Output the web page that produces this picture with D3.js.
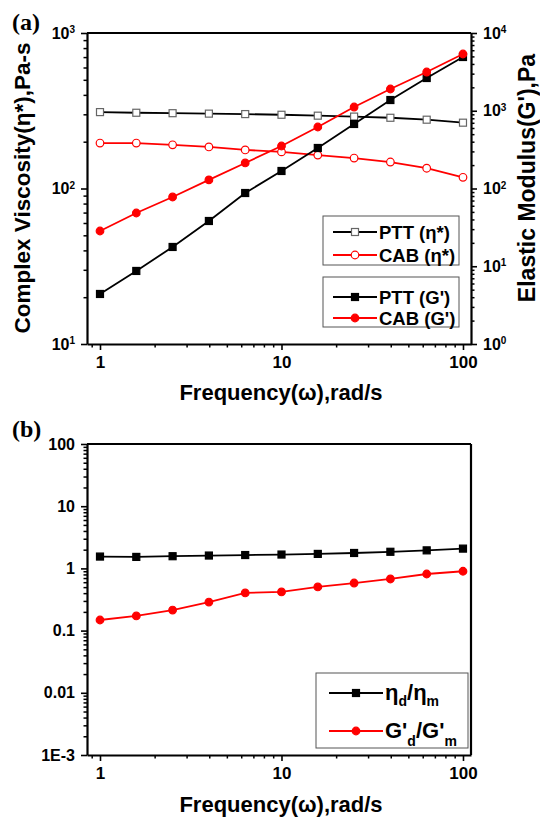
<!DOCTYPE html>
<html>
<head>
<meta charset="utf-8">
<script src="https://cdn.jsdelivr.net/npm/d3@7"></script>
<style>
  body { margin: 0; background: #fff; }
  svg { display: block; }
  text { font-family: "Liberation Sans", Arial, sans-serif; font-weight: bold; }
</style>
</head>
<body>
<svg id="chart" width="540" height="819"></svg>
<script>
// frequencies (rad/s), 5 points per decade
var freq = [1, 1.585, 2.512, 3.981, 6.310, 10, 15.85, 25.12, 39.81, 63.10, 100];

// panel (a): complex viscosity (left axis) and G' (right axis)
var pttEta = [310, 307, 305, 303, 301, 298, 294, 290, 285, 277, 265];
var cabEta = [196, 196, 191, 185, 177, 172, 164, 157, 148, 135, 118];
var pttG = [4.4, 8.7, 17.7, 38.2, 87.5, 168, 332, 676, 1374, 2637, 4912];
var cabG = [28.4, 48.4, 77.8, 129, 213, 352, 618, 1117, 1904, 3149, 5370];

// panel (b): ratios
var etaRatio = [1.55, 1.53, 1.57, 1.61, 1.64, 1.67, 1.71, 1.77, 1.85, 1.95, 2.08];
var gRatio = [0.148, 0.172, 0.214, 0.288, 0.403, 0.418, 0.503, 0.582, 0.676, 0.813, 0.90];

var xTicks = [1, 10, 100];
var leftTicksA = [10, 100, 1000];
var rightTicksA = [1, 10, 100, 1000, 10000];
var yTicksB = [100, 10, 1, 0.1, 0.01, 0.001];
var yLabelsB = ['100', '10', '1', '0.1', '0.01', '1E-3'];

var svg = d3.select('#chart');

function minors(domain) {
    var out = [];
    var lo = Math.floor(Math.log10(domain[0])), hi = Math.ceil(Math.log10(domain[1]));
    for (var e = lo; e <= hi; e++) {
        for (var k = 2; k <= 9; k++) {
            var v = k * Math.pow(10, e);
            if (v >= domain[0] * 0.999 && v <= domain[1] * 1.001) out.push(v);
        }
    }
    return out;
}

function drawAxis(g, axisFn, scale, majors, minorLen) {
    var doms = scale.domain();
    g.append('g')
        .call(axisFn(scale).tickValues(minors([Math.min(doms[0], doms[1]), Math.max(doms[0], doms[1])]))
            .tickSize(minorLen).tickSizeOuter(0).tickFormat(''))
        .call(a => a.select('.domain').remove())
        .selectAll('line').attr('stroke-width', 1.5);
    var major = g.append('g')
        .call(axisFn(scale).tickValues(majors).tickSize(6).tickSizeOuter(0).tickPadding(6));
    major.select('.domain').attr('stroke-width', 2.2);
    major.selectAll('line').attr('stroke-width', 1.6);
    major.attr('font-family', null).attr('font-size', 16);
    return major;
}

function superscript(sel) {
    sel.selectAll('.tick text').each(function (d) {
        var t = d3.select(this);
        t.text(null);
        t.append('tspan').text('10');
        t.append('tspan').attr('dy', '-0.55em').attr('font-size', 10)
            .text(Math.round(Math.log10(d)));
    });
}

function series(g, x, y, vals, color, shape, filled) {
    var pts = freq.map((f, i) => [x(f), y(vals[i])]);
    g.append('path')
        .attr('d', d3.line()(pts))
        .attr('fill', 'none')
        .attr('stroke', color)
        .attr('stroke-width', 1.8);
    marker(g, pts, color, shape, filled);
}

function marker(g, pts, color, shape, filled) {
    if (shape === 'square') {
        g.selectAll(null).data(pts).enter().append('rect')
            .attr('x', d => d[0] - 3.5).attr('y', d => d[1] - 3.5)
            .attr('width', 7).attr('height', 7)
            .attr('fill', filled ? color : '#fff')
            .attr('stroke', filled ? color : '#666')
            .attr('stroke-width', 1.2);
    } else {
        g.selectAll(null).data(pts).enter().append('circle')
            .attr('cx', d => d[0]).attr('cy', d => d[1])
            .attr('r', 3.8)
            .attr('fill', filled ? color : '#fff')
            .attr('stroke', color)
            .attr('stroke-width', 1.2);
    }
}

// ---------- panel (a) ----------
var x = d3.scaleLog().domain([0.848, 110.7]).range([87, 471]);
var yEta = d3.scaleLog().domain([10, 1000]).range([344, 33]);
var yG = d3.scaleLog().domain([1, 10000]).range([344, 33]);

var pa = svg.append('g');

pa.append('line').attr('x1', 87).attr('x2', 471).attr('y1', 33).attr('y2', 33)
    .attr('stroke', '#000').attr('stroke-width', 2.2);

var ax = drawAxis(pa.append('g').attr('transform', 'translate(0,344)'), d3.axisBottom, x, xTicks, 3.5);
ax.attr('font-size', 17);
ax.selectAll('.tick text').text(d => d);
var ay = drawAxis(pa.append('g').attr('transform', 'translate(87,0)'), d3.axisLeft, yEta, leftTicksA, 3.5);
superscript(ay);
var ay2 = drawAxis(pa.append('g').attr('transform', 'translate(471,0)'), d3.axisRight, yG, rightTicksA, 3.5);
superscript(ay2);
ay2.selectAll('.tick text').attr('x', 12);

series(pa, x, yEta, pttEta, '#000', 'square', false);
series(pa, x, yEta, cabEta, '#ff0000', 'circle', false);
series(pa, x, yG, pttG, '#000', 'square', true);
series(pa, x, yG, cabG, '#ff0000', 'circle', true);

pa.append('text').attr('x', 12).attr('y', 30)
    .style('font-family', '"Liberation Serif", serif').style('font-size', '24px')
    .text('(a)');

pa.append('text')
    .attr('transform', 'translate(30,188) rotate(-90)')
    .attr('text-anchor', 'middle')
    .style('font-size', '22.5px')
    .text('Complex Viscosity(\u03b7*),Pa-s');

pa.append('text')
    .attr('transform', 'translate(535,178) rotate(-90)')
    .attr('text-anchor', 'middle')
    .style('font-size', '23px')
    .text("Elastic Modulus(G'),Pa");

pa.append('text').attr('x', 281).attr('y', 400)
    .attr('text-anchor', 'middle').style('font-size', '22px')
    .text('Frequency(\u03c9),rad/s');

// legends (a)
function legendBox(g, x0, y0, w, h) {
    g.append('rect').attr('x', x0).attr('y', y0).attr('width', w).attr('height', h)
        .attr('fill', '#fff').attr('stroke', '#555').attr('stroke-width', 1);
}
function legendRow(g, x1, x2, y, color, shape, filled) {
    g.append('line').attr('x1', x1).attr('x2', x2).attr('y1', y).attr('y2', y)
        .attr('stroke', color).attr('stroke-width', 1.8);
    marker(g, [[(x1 + x2) / 2, y]], color, shape, filled);
}

var lg = pa.append('g');
legendBox(lg, 323, 216, 136, 49);
legendBox(lg, 323, 277, 136, 50);
var rowsA = [
    {y: 232, c: '#000', s: 'square', f: false, t: 'PTT (\u03b7*)'},
    {y: 255, c: '#ff0000', s: 'circle', f: false, t: 'CAB (\u03b7*)'},
    {y: 297, c: '#000', s: 'square', f: true, t: "PTT (G')"},
    {y: 318, c: '#ff0000', s: 'circle', f: true, t: "CAB (G')"}
];
rowsA.forEach(function (r) {
    legendRow(lg, 333, 377, r.y, r.c, r.s, r.f);
    lg.append('text').attr('x', 379).attr('y', r.y + 6.5).style('font-size', '18.5px').text(r.t);
});

// ---------- panel (b) ----------
var yB = d3.scaleLog().domain([0.001, 100]).range([755, 444]);
var pb = svg.append('g');

pb.append('line').attr('x1', 87).attr('x2', 471).attr('y1', 444).attr('y2', 444)
    .attr('stroke', '#000').attr('stroke-width', 2.2);
pb.append('line').attr('x1', 471).attr('x2', 471).attr('y1', 444).attr('y2', 755)
    .attr('stroke', '#000').attr('stroke-width', 2.2);

var bx = drawAxis(pb.append('g').attr('transform', 'translate(0,755)'), d3.axisBottom, x, xTicks, 3.5);
bx.attr('font-size', 17);
bx.selectAll('.tick text').text(d => d);
var by = drawAxis(pb.append('g').attr('transform', 'translate(87,0)'), d3.axisLeft, yB, yTicksB, 3.5);
by.selectAll('.tick text').text((d, i) => yLabelsB[i]);

series(pb, x, yB, etaRatio, '#000', 'square', true);
series(pb, x, yB, gRatio, '#ff0000', 'circle', true);

pb.append('text').attr('x', 12).attr('y', 437)
    .style('font-family', '"Liberation Serif", serif').style('font-size', '24px')
    .text('(b)');

pb.append('text').attr('x', 281).attr('y', 812)
    .attr('text-anchor', 'middle').style('font-size', '22px')
    .text('Frequency(\u03c9),rad/s');

var lgb = pb.append('g');
legendBox(lgb, 316, 673, 152, 75);
legendRow(lgb, 329, 383, 693, '#000', 'square', true);
legendRow(lgb, 329, 383, 731, '#ff0000', 'circle', true);

var t1 = lgb.append('text').attr('x', 385).attr('y', 700).style('font-size', '22px');
t1.append('tspan').text('\u03b7');
t1.append('tspan').attr('dy', 6).style('font-size', '14px').text('d');
t1.append('tspan').attr('dy', -6).text('/\u03b7');
t1.append('tspan').attr('dy', 6).style('font-size', '14px').text('m');

var t2 = lgb.append('text').attr('x', 385).attr('y', 738).style('font-size', '22px');
t2.append('tspan').text("G'");
t2.append('tspan').attr('dy', 8).style('font-size', '14px').text('d');
t2.append('tspan').attr('dy', -8).text("/G'");
t2.append('tspan').attr('dy', 8).style('font-size', '14px').text('m');
</script>
</body>
</html>
